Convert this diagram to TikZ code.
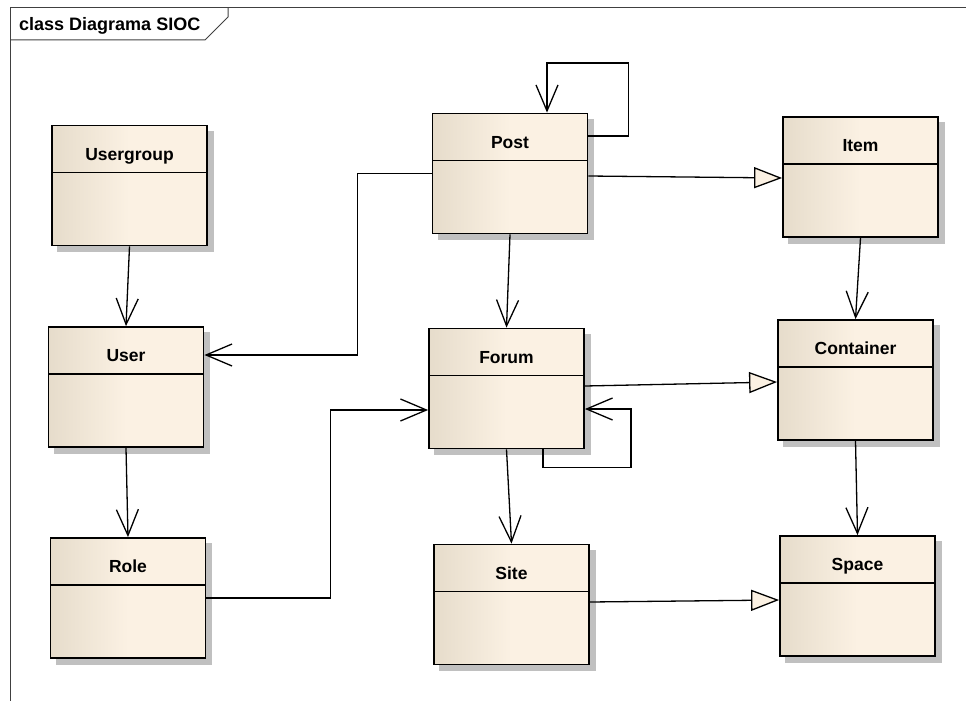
\documentclass[tikz,border=0pt]{standalone}
\usepackage{fontspec}
\setmainfont{Liberation Sans}
\usetikzlibrary{arrows.meta,backgrounds}
\definecolor{classL}{HTML}{E6DCCB}
\definecolor{classR}{HTML}{FBF1E3}
\definecolor{shadowgray}{HTML}{C0C0C0}
\definecolor{framegray}{HTML}{404040}

\begin{document}
\begin{tikzpicture}[x=1pt,y=-1pt,
  umlclass/.style={rectangle, draw, line width=1.8pt, inner sep=0pt,
    minimum width=155pt, minimum height=120pt,
    left color=classL, right color=classR, middle color=classR,
    path picture={\draw[line width=1.5pt]
      ([yshift=-47pt]path picture bounding box.north west) --
      ([yshift=-47pt]path picture bounding box.north east);}},
  classname/.style={anchor=base, inner sep=0pt, font=\fontsize{17.5pt}{20pt}\selectfont\bfseries},
  assoc/.style={draw, line width=1.3pt, -{Straight Barb[length=26pt,width=22pt]}},
  gen/.style={draw, line width=1.3pt, -{Triangle[length=28pt,width=21pt,fill=classR]}},
  framestyle/.style={draw=framegray, line width=1pt}
]
\useasboundingbox (0,0) rectangle (966,701);

% diagram frame and title tab
\draw[framestyle] (10.5,701) -- (10.5,8) -- (966,8);
\draw[framestyle] (10.5,40) -- (205,40) -- (228,17) -- (228,8);
\node[anchor=base west, inner sep=0pt, font=\fontsize{18pt}{21pt}\selectfont\bfseries]
  (title) at (19,31) {class Diagrama SIOC};

% classes
\node[umlclass] (Usergroup) at (129.5,185.5) {};
\node[umlclass] (User)      at (126,387) {};
\node[umlclass] (Role)      at (128,598) {};
\node[umlclass] (Post)      at (510,173.5) {};
\node[umlclass] (Forum)     at (506.5,388.5) {};
\node[umlclass] (Site)      at (511.5,604.5) {};
\node[umlclass] (Item)      at (860.5,177) {};
\node[umlclass] (Container) at (855.5,380) {};
\node[umlclass] (Space)     at (857.5,596) {};

\foreach \c in {Usergroup,User,Role,Post,Forum,Site,Item,Container,Space}
  \node[classname] (\c-name) at ([yshift=-35.5pt]\c.north) {\c};

% flat drop shadows behind the class boxes
\begin{scope}[on background layer]
  \foreach \c in {Usergroup,User,Role,Post,Forum,Site,Item,Container,Space}
    \fill[shadowgray] ([shift={(6pt,-6pt)}]\c.south west) rectangle ([shift={(6pt,-6pt)}]\c.north east);
\end{scope}

% associations
\draw[assoc] (Usergroup.south) -- (User.north);
\draw[assoc] (User.south) -- (Role.north);
\draw[assoc] (Post.west) -- ++(-74,0) |- ([yshift=32pt]User.east);
\draw[assoc] (Role.east) -- ++(124,0) |- ([yshift=-21.5pt]Forum.west);
\draw[assoc] (Post.south) -- (Forum.north);
\draw[assoc] ([yshift=37.5pt]Post.east) -- ++(40,0) -- ++(0,-73) -| ([xshift=37pt]Post.north);
\draw[assoc] (Item.south) -- (Container.north);
\draw[assoc] ([xshift=36.5pt]Forum.south) -- ++(0,18) -- ++(88,0) |- ([yshift=-20.5pt]Forum.east);
\draw[assoc] (Forum.south) -- (Site.north);
\draw[assoc] (Container.south) -- (Space.north);

% generalizations
\draw[gen] ([yshift=-2.5pt]Post.east) -- ([yshift=-1pt]Item.west);
\draw[gen] ([yshift=2.5pt]Forum.east) -- ([yshift=-2pt]Container.west);
\draw[gen] ([yshift=2.5pt]Site.east) -- ([yshift=-4pt]Space.west);
\end{tikzpicture}
\end{document}
